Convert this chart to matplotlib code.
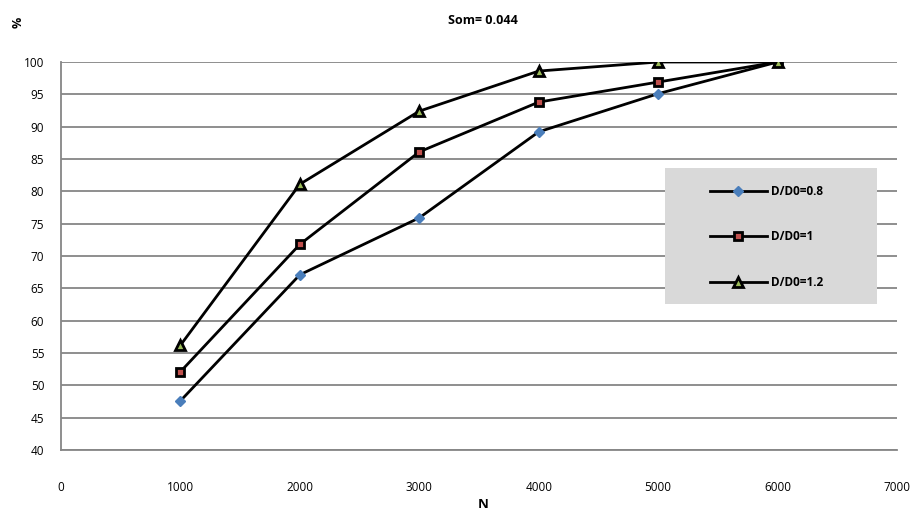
import matplotlib
matplotlib.use("Agg")
import matplotlib.pyplot as plt
from matplotlib.patches import Rectangle

N = [1000, 2000, 3000, 4000, 5000, 6000]
s08 = [47.6, 67.1, 75.9, 89.2, 95.1, 100.0]
s10 = [52.1, 71.8, 86.1, 93.8, 96.9, 100.0]
s12 = [56.2, 81.1, 92.4, 98.6, 100.0, 100.0]
labels = ["D/D0=0.8", "D/D0=1", "D/D0=1.2"]
xticks = [0, 1000, 2000, 3000, 4000, 5000, 6000, 7000]
yticks = list(range(40, 101, 5))

plt.rcParams['font.family'] = ['Open Sans', 'DejaVu Sans']
fig = plt.figure(figsize=(9.12, 5.17), dpi=100)
ax = fig.add_axes([61/912, 67/517, (897-61)/912, (450-62)/517])

ax.plot(N, s08, color='black', lw=2, marker='D', ms=5.5, mfc='#4a7ebb', mec='#4a7ebb', label=labels[0], zorder=3)
ax.plot(N, s10, color='black', lw=2, marker='s', ms=6, mfc='#c0504d', mec='black', mew=2, label=labels[1], zorder=3)
ax.plot(N, s12, color='black', lw=2, marker='^', ms=6.5, mfc='#9bbb59', mec='black', mew=2, label=labels[2], zorder=3)

ax.set_xlim(0, 7000)
ax.set_ylim(40, 100)
ax.set_xticks(xticks)
ax.set_yticks(yticks)
ax.tick_params(length=0, labelsize=8.5)
ax.tick_params(axis='x', pad=22)
ax.tick_params(axis='y', pad=12)
ax.grid(axis='y', color='#868686', lw=1.3)
ax.set_axisbelow(True)
for s in ['top', 'right']:
    ax.spines[s].set_visible(False)
for s in ['left', 'bottom']:
    ax.spines[s].set_color('#868686')
    ax.spines[s].set_linewidth(1.3)

fig.text(483/912, 1 - 20/517, "Som= 0.044", ha='center', va='center', fontsize=9, fontweight='bold')
fig.text(18/912, 1 - 22/517, "%", ha='center', va='center', fontsize=9, fontweight='bold', rotation=90)
fig.text(483/912, 1 - 505/517, "N", ha='center', va='center', fontsize=9.5, fontweight='bold')

ax.add_patch(Rectangle(((665-61)/836, (450-304)/388), 212/836, 136/388, transform=ax.transAxes,
                       facecolor='#d9d9d9', edgecolor='none', zorder=4))
leg = ax.legend(loc='upper left', bbox_to_anchor=((710-61)/836, (450-185)/388), frameon=False,
                labelspacing=2.75, borderpad=0, handlelength=4.8, borderaxespad=0, handletextpad=0.35,
                prop={'weight': 'bold', 'size': 8.5})
leg.set_zorder(5)

fig.savefig("out.png", dpi=100)
